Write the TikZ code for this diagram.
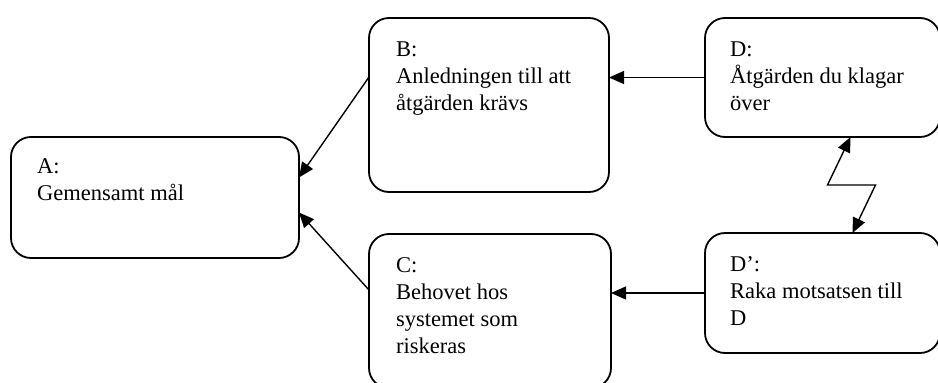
\documentclass[tikz,border=0pt]{standalone}
\usepackage{fontspec}
\setmainfont{Liberation Serif}
\usetikzlibrary{arrows.meta}
\tikzset{
  box/.style={draw, line width=1.8pt, rounded corners=20pt, inner sep=0pt, outer sep=0pt},
  txt/.style={anchor=base west, align=left, inner sep=0pt, font=\fontsize{22.5}{27}\selectfont},
  arr/.style={-{Triangle[length=15pt,width=13pt]}, line width=1.4pt},
}
\begin{document}
\begin{tikzpicture}[x=1pt,y=-1pt]
  \useasboundingbox (0,0) rectangle (938,383);
  % boxes
  \node[box, minimum width=288, minimum height=121] (A)  at (155,197.5) {};
  \node[box, minimum width=240, minimum height=174] (B)  at (489,105) {};
  \node[box, minimum width=242, minimum height=154] (C)  at (490,311) {};
  \node[box, minimum width=235, minimum height=119] (D)  at (822.5,77.5) {};
  \node[box, minimum width=235, minimum height=120] (Dp) at (822.5,293) {};
  % texts (anchored at the last line)
  \node[txt] (Atxt)  at ([xshift=26pt,yshift=-63pt]A.north west)   {A:\\Gemensamt mål};
  \node[txt] (Btxt)  at ([xshift=27pt,yshift=-92pt]B.north west)   {B:\\Anledningen till att\\åtgärden krävs};
  \node[txt] (Ctxt)  at ([xshift=27pt,yshift=-119pt]C.north west)  {C:\\Behovet hos\\systemet som\\riskeras};
  \node[txt] (Dtxt)  at ([xshift=25pt,yshift=-92pt]D.north west)   {D:\\Åtgärden du klagar\\över};
  \node[txt] (Dptxt) at ([xshift=25pt,yshift=-92pt]Dp.north west)  {D’:\\Raka motsatsen till\\D};
  % connectors
  \draw[arr] ([yshift=28pt]B.west) -- ([yshift=20pt]A.east);
  \draw[arr] ([yshift=21pt]C.west) -- ([yshift=-15pt]A.east);
  \draw[arr] (D.west) -- (D.west -| B.east);
  \draw[arr] (Dp.west) -- (Dp.west -| C.east);
  \draw[arr, {Triangle[length=15pt,width=13pt]}-{Triangle[length=15pt,width=13pt]}]
    ([xshift=28pt]D.south) -- ++(-23,48) -- ++(48,0) -- ([xshift=30pt]Dp.north);
\end{tikzpicture}
\end{document}
